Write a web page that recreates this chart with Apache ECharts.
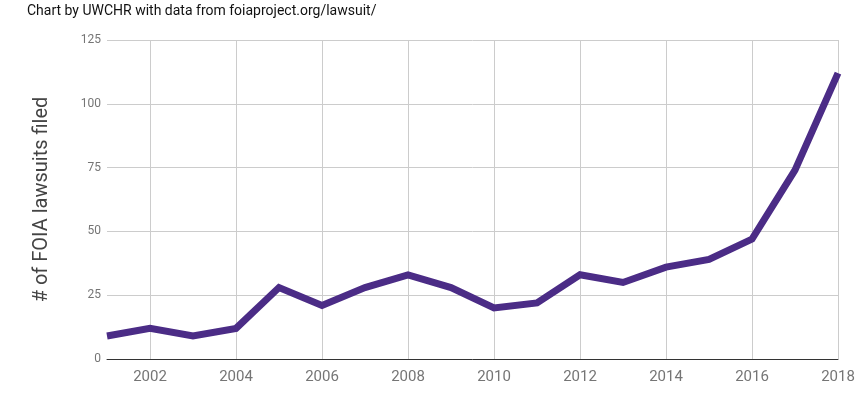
<!DOCTYPE html>
<html>
<head>
<meta charset="utf-8">
<script src="https://cdn.jsdelivr.net/npm/echarts@6/dist/echarts.min.js"></script>
<style>
  html, body { margin: 0; padding: 0; background: #fff; }
  #main { width: 864px; height: 400px; }
</style>
</head>
<body>
<div id="main"></div>
<script>
var years = ['2001', '2002', '2003', '2004', '2005', '2006', '2007', '2008', '2009',
  '2010', '2011', '2012', '2013', '2014', '2015', '2016', '2017', '2018'];
var lawsuits = [9, 12, 9, 12, 28, 21, 28, 33, 28, 20, 22, 33, 30, 36, 39, 47, 74, 112];
var yTicks = [0, 25, 50, 75, 100, 125];

document.addEventListener('DOMContentLoaded', function () {
  var myChart = echarts.init(document.getElementById('main'));
  // only even years get a label and a gridline
  var evenYear = function (idx, val) { return Number(years[idx]) % 2 === 0; };
  var option = {
    textStyle: { fontFamily: 'Roboto' },
    title: {
      text: 'Chart by UWCHR with data from foiaproject.org/lawsuit/',
      left: 22, top: -1,
      textStyle: { fontSize: 14, fontWeight: 'normal', color: '#111', fontFamily: 'Roboto' }
    },
    grid: { left: 107, right: 26, top: 40, bottom: 41 },
    xAxis: {
      type: 'category',
      data: years,
      boundaryGap: false,
      axisLine: { lineStyle: { color: '#333', width: 1 } },
      axisTick: { show: false },
      axisLabel: { interval: evenYear, color: '#757575', fontSize: 15, margin: 11 },
      splitLine: { show: true, interval: evenYear, lineStyle: { color: '#cccccc' } }
    },
    yAxis: {
      type: 'value',
      min: yTicks[0],
      max: yTicks[yTicks.length - 1],
      interval: 25,
      name: '# of FOIA lawsuits filed',
      nameLocation: 'middle',
      nameGap: 55,
      nameTextStyle: { fontSize: 20, color: '#444' },
      axisLine: { show: false },
      axisTick: { show: false },
      axisLabel: { color: '#757575', fontSize: 12, margin: 6 },
      splitLine: { lineStyle: { color: '#cccccc' } }
    },
    series: [{
      type: 'line',
      data: lawsuits,
      symbol: 'none',
      lineStyle: { color: '#4b2c86', width: 7, cap: 'butt', join: 'miter' },
      itemStyle: { color: '#4b2c86' }
    }]
  };
  myChart.setOption(option);
});
</script>
</body>
</html>
